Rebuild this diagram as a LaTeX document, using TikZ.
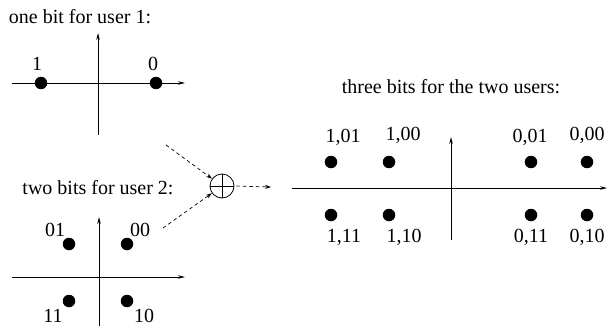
\documentclass[tikz,border=0pt]{standalone}
\usepackage{fontspec}
\setmainfont{Liberation Serif}
\usetikzlibrary{arrows.meta}
\begin{document}
\begin{tikzpicture}[x=1pt,y=-1pt,
  axis/.style={line width=0.8pt, -{Stealth[length=7pt,width=3.5pt]}},
  pt/.style={circle, fill=black, inner sep=0pt, minimum size=12.5pt},
  lbl/.style={font=\fontsize{20}{22}\selectfont, inner sep=0pt},
  conn/.style={dash pattern=on 3.5pt off 3pt, line width=0.7pt, -{Stealth[length=6pt,width=4pt]}},
  sumnode/.style={circle, draw, line width=0.8pt, minimum size=24pt, inner sep=0pt}]
\useasboundingbox (0,0) rectangle (609,326);

% ---- top panel: one bit for user 1
\node[lbl] (t1) at (80,17) {one bit for user 1:};
\coordinate (a1w) at (12,83);  \coordinate (a1e) at (185,83);
\coordinate (a1s) at (98,135); \coordinate (a1n) at (98,33);
\draw[axis] (a1w) -- (a1e);
\draw[axis] (a1s) -- (a1n);
\node[pt] (p1) at (41,83) {};
\node[pt] (p0) at (156,83) {};
\node[lbl] (l1) at (37,64) {1};
\node[lbl] (l0) at (153,64) {0};

% ---- bottom-left panel: two bits for user 2
\node[lbl] (t2) at (98,188) {two bits for user 2:};
\coordinate (a2w) at (12,277);  \coordinate (a2e) at (185,277);
\coordinate (a2s) at (99,326);  \coordinate (a2n) at (99,217);
\draw[axis] (a2w) -- (a2e);
\draw[axis] (a2s) -- (a2n);
\node[pt] (q01) at (69,244) {};
\node[pt] (q00) at (127,244) {};
\node[pt] (q11) at (69,301) {};
\node[pt] (q10) at (127,301) {};
\node[lbl] (m01) at (55,230) {01};
\node[lbl] (m00) at (140,230) {00};
\node[lbl] (m11) at (53,316) {11};
\node[lbl] (m10) at (144,316) {10};

% ---- summation
\node[sumnode] (o) at (222,186) {};
\draw[line width=0.8pt] (o.north) -- (o.south) (o.west) -- (o.east);
\coordinate (s1) at (166,145);
\coordinate (s2) at (163,228);
\coordinate (s3) at (271,187);
\draw[conn] (s1) -- (o);
\draw[conn] (s2) -- (o);
\draw[conn, shorten <=2pt] (o.east) -- (s3);

% ---- right panel: three bits
\node[lbl] (t3) at (451,87) {three bits for the two users:};
\coordinate (a3w) at (292,188);  \coordinate (a3e) at (607,188);
\coordinate (a3s) at (451,240);  \coordinate (a3n) at (451,137);
\draw[axis] (a3w) -- (a3e);
\draw[axis] (a3s) -- (a3n);
\node[pt] (r101) at (331,162) {};
\node[pt] (r100) at (389,162) {};
\node[pt] (r111) at (331,215) {};
\node[pt] (r110) at (389,215) {};
\node[pt] (r001) at (531,162) {};
\node[pt] (r000) at (587,162) {};
\node[pt] (r011) at (531,215) {};
\node[pt] (r010) at (587,215) {};
\node[lbl] (n101) at (343,137) {1,01};
\node[lbl] (n100) at (403,135) {1,00};
\node[lbl] (n111) at (344,237) {1,11};
\node[lbl] (n110) at (404,237) {1,10};
\node[lbl] (n001) at (530,137) {0,01};
\node[lbl] (n000) at (587,135) {0,00};
\node[lbl] (n011) at (531,237) {0,11};
\node[lbl] (n010) at (587,237) {0,10};
\end{tikzpicture}
\end{document}
